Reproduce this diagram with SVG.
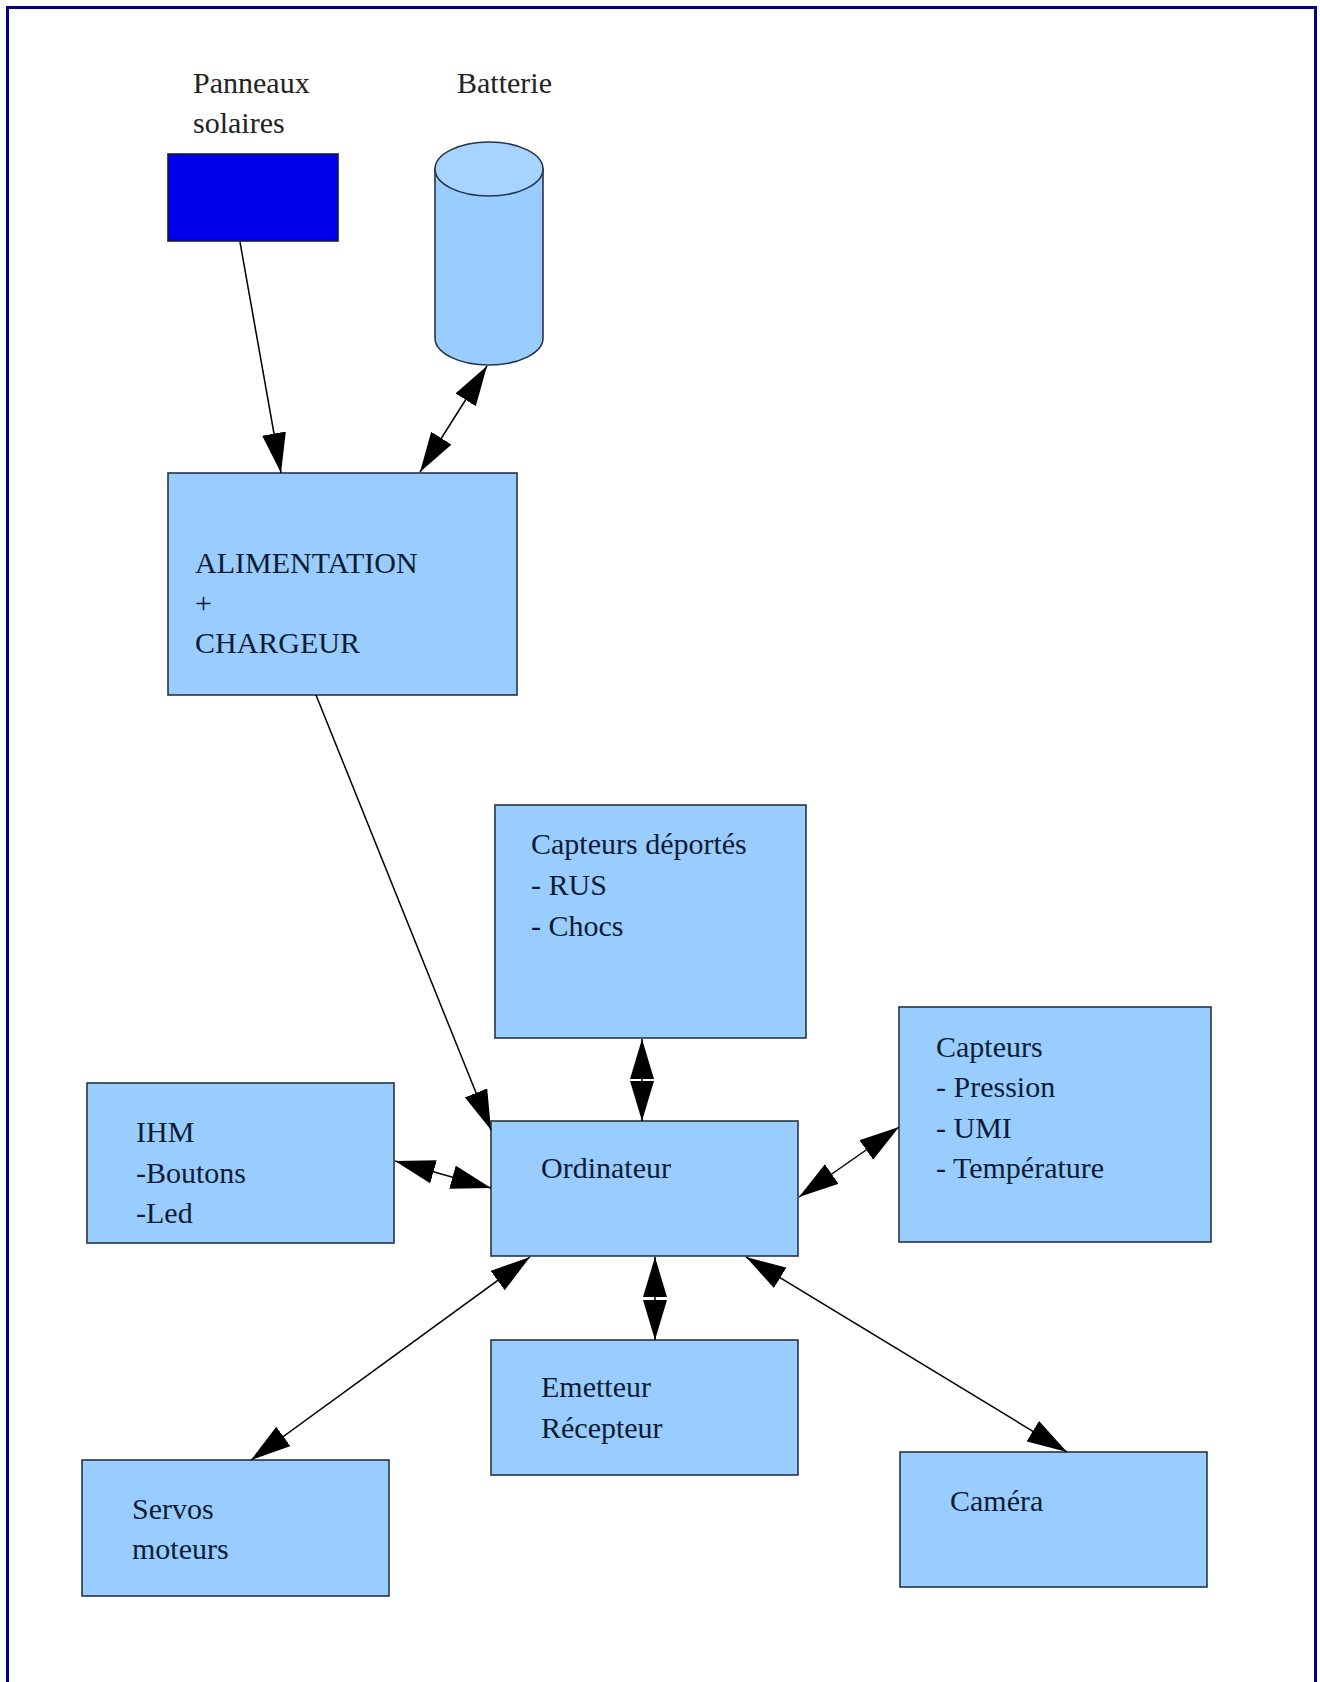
<svg xmlns="http://www.w3.org/2000/svg" width="1320" height="1682" viewBox="0 0 1320 1682">
<defs>
<marker id="ah" markerUnits="userSpaceOnUse" markerWidth="40" markerHeight="24" viewBox="0 0 40 24" refX="40" refY="12" orient="auto-start-reverse">
<path d="M0,0 L40,12 L0,24 Z" fill="#000"/>
</marker>
<style>
.box{fill:#99ccff;stroke:#263545;stroke-width:1.6}
.t{font-family:"Liberation Serif","Times New Roman",serif;font-size:30px;fill:#0e1c33}
.lbl{font-family:"Liberation Serif","Times New Roman",serif;font-size:30px;fill:#222}
.c{fill:none;stroke:#000;stroke-width:1.5}
.one{marker-end:url(#ah)}
.two{marker-start:url(#ah);marker-end:url(#ah)}
</style>
</defs>
<rect x="0" y="0" width="1320" height="1682" fill="#fff"/>
<rect x="7.5" y="7.5" width="1308" height="1700" fill="none" stroke="#000080" stroke-width="3"/>

<g id="panneaux">
<text class="lbl" x="193" y="93">Panneaux</text>
<text class="lbl" x="193" y="133">solaires</text>
<rect x="168" y="154" width="170" height="87" fill="#0000ee" stroke="#1a1a3a" stroke-width="1.6"/>
</g>

<g id="batterie">
<text class="lbl" x="457" y="93">Batterie</text>
<path d="M435,169 V338 A54,27 0 0 0 543,338 V169 Z" fill="#99ccff" stroke="#263545" stroke-width="1.6"/>
<ellipse cx="489" cy="169" rx="54" ry="27" fill="#a6d3ff" stroke="#263545" stroke-width="1.6"/>
</g>

<g id="alimentation">
<rect class="box" x="168" y="473" width="349" height="222"/>
<text class="t" x="195" y="573">ALIMENTATION</text>
<text class="t" x="195" y="613">+</text>
<text class="t" x="195" y="653">CHARGEUR</text>
</g>

<g id="capteurs-deportes">
<rect class="box" x="495" y="805" width="311" height="233"/>
<text class="t" x="531" y="854">Capteurs déportés</text>
<text class="t" x="531" y="895">- RUS</text>
<text class="t" x="531" y="936">- Chocs</text>
</g>

<g id="capteurs">
<rect class="box" x="899" y="1007" width="312" height="235"/>
<text class="t" x="936" y="1057">Capteurs</text>
<text class="t" x="936" y="1097">- Pression</text>
<text class="t" x="936" y="1138">- UMI</text>
<text class="t" x="936" y="1178">- Température</text>
</g>

<g id="ihm">
<rect class="box" x="87" y="1083" width="307" height="160"/>
<text class="t" x="136" y="1142">IHM</text>
<text class="t" x="136" y="1183">-Boutons</text>
<text class="t" x="136" y="1223">-Led</text>
</g>

<g id="ordinateur">
<rect class="box" x="491" y="1121" width="307" height="135"/>
<text class="t" x="541" y="1178">Ordinateur</text>
</g>

<g id="emetteur">
<rect class="box" x="491" y="1340" width="307" height="135"/>
<text class="t" x="541" y="1397">Emetteur</text>
<text class="t" x="541" y="1438">Récepteur</text>
</g>

<g id="servos">
<rect class="box" x="82" y="1460" width="307" height="136"/>
<text class="t" x="132" y="1519">Servos</text>
<text class="t" x="132" y="1559">moteurs</text>
</g>

<g id="camera">
<rect class="box" x="900" y="1452" width="307" height="135"/>
<text class="t" x="950" y="1511">Caméra</text>
</g>

<g id="connectors">
<line class="c one" x1="240" y1="242" x2="281" y2="473"/>
<line class="c two" x1="487" y1="366" x2="420" y2="472"/>
<line class="c one" x1="316" y1="695" x2="491" y2="1130"/>
<line class="c two" x1="642" y1="1039" x2="642" y2="1121"/>
<line class="c two" x1="899" y1="1127" x2="799" y2="1197"/>
<line class="c two" x1="395" y1="1161" x2="491" y2="1188"/>
<line class="c two" x1="655" y1="1257" x2="655" y2="1340"/>
<line class="c two" x1="530" y1="1257" x2="251" y2="1460"/>
<line class="c two" x1="746" y1="1257" x2="1067" y2="1452"/>
</g>
</svg>
